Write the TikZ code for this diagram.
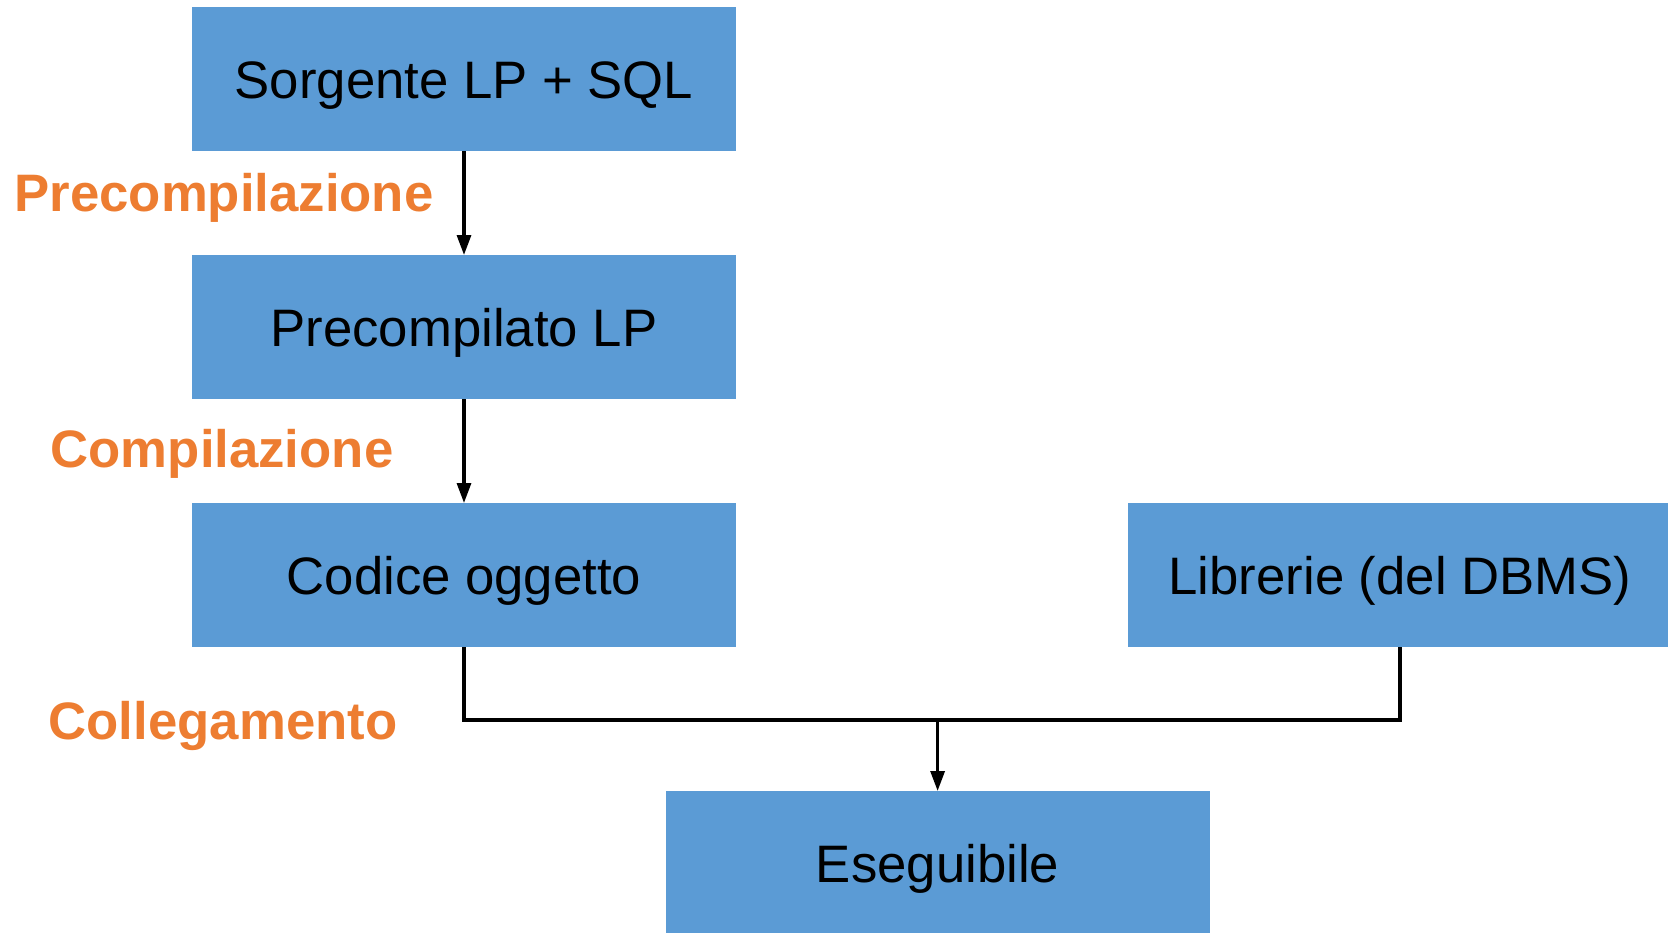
\documentclass[tikz,border=0pt]{standalone}
\usepackage{fontspec}
\setmainfont{Liberation Sans}
\usetikzlibrary{arrows.meta, positioning, calc}
\definecolor{stageblue}{RGB}{91,155,213}
\definecolor{phaseorange}{RGB}{237,125,49}

\begin{document}
\begin{tikzpicture}[
   stage/.style={fill=stageblue, draw=none, outer sep=0pt, text height=0.38cm, text depth=0pt,
                 minimum width=5.44cm, minimum height=1.44cm, font=\fontsize{15}{18}\selectfont},
   phase/.style={text=phaseorange, font=\fontsize{15}{18}\selectfont\bfseries, anchor=base},
   link/.style={-{Triangle[length=2mm,width=1.4mm]}, line width=0.9pt},
   node distance=1.04cm and 3.92cm]
 \useasboundingbox (0,0) rectangle (16.68,-9.32);

 \node[stage] (src) at (4.64,-0.79) {Sorgente LP + SQL};
 \node[stage, below=of src] (pre) {Precompilato LP};
 \node[stage, below=of pre] (obj) {Codice oggetto};
 \node[stage, right=of obj] (lib) {Librerie (del DBMS)};
 \coordinate (join) at ($(obj.south)!0.506!(lib.south)+(0,-0.73)$);
 \node[stage, anchor=north] (exe) at ($(join)+(0,-0.71)$) {Eseguibile};

 \node[phase] (lblpre) at (2.24,-2.11) {Precompilazione};
 \node[phase] (lblcomp) at (2.22,-4.67) {Compilazione};
 \node[phase] (lblcoll) at (2.23,-7.39) {Collegamento};

 \draw[link] (src) -- (pre);
 \draw[link] (pre) -- (obj);
 \draw[line width=0.9pt] (obj.south) |- (join) -| (lib.south);
 \draw[link] (join) -- (exe);
\end{tikzpicture}
\end{document}
